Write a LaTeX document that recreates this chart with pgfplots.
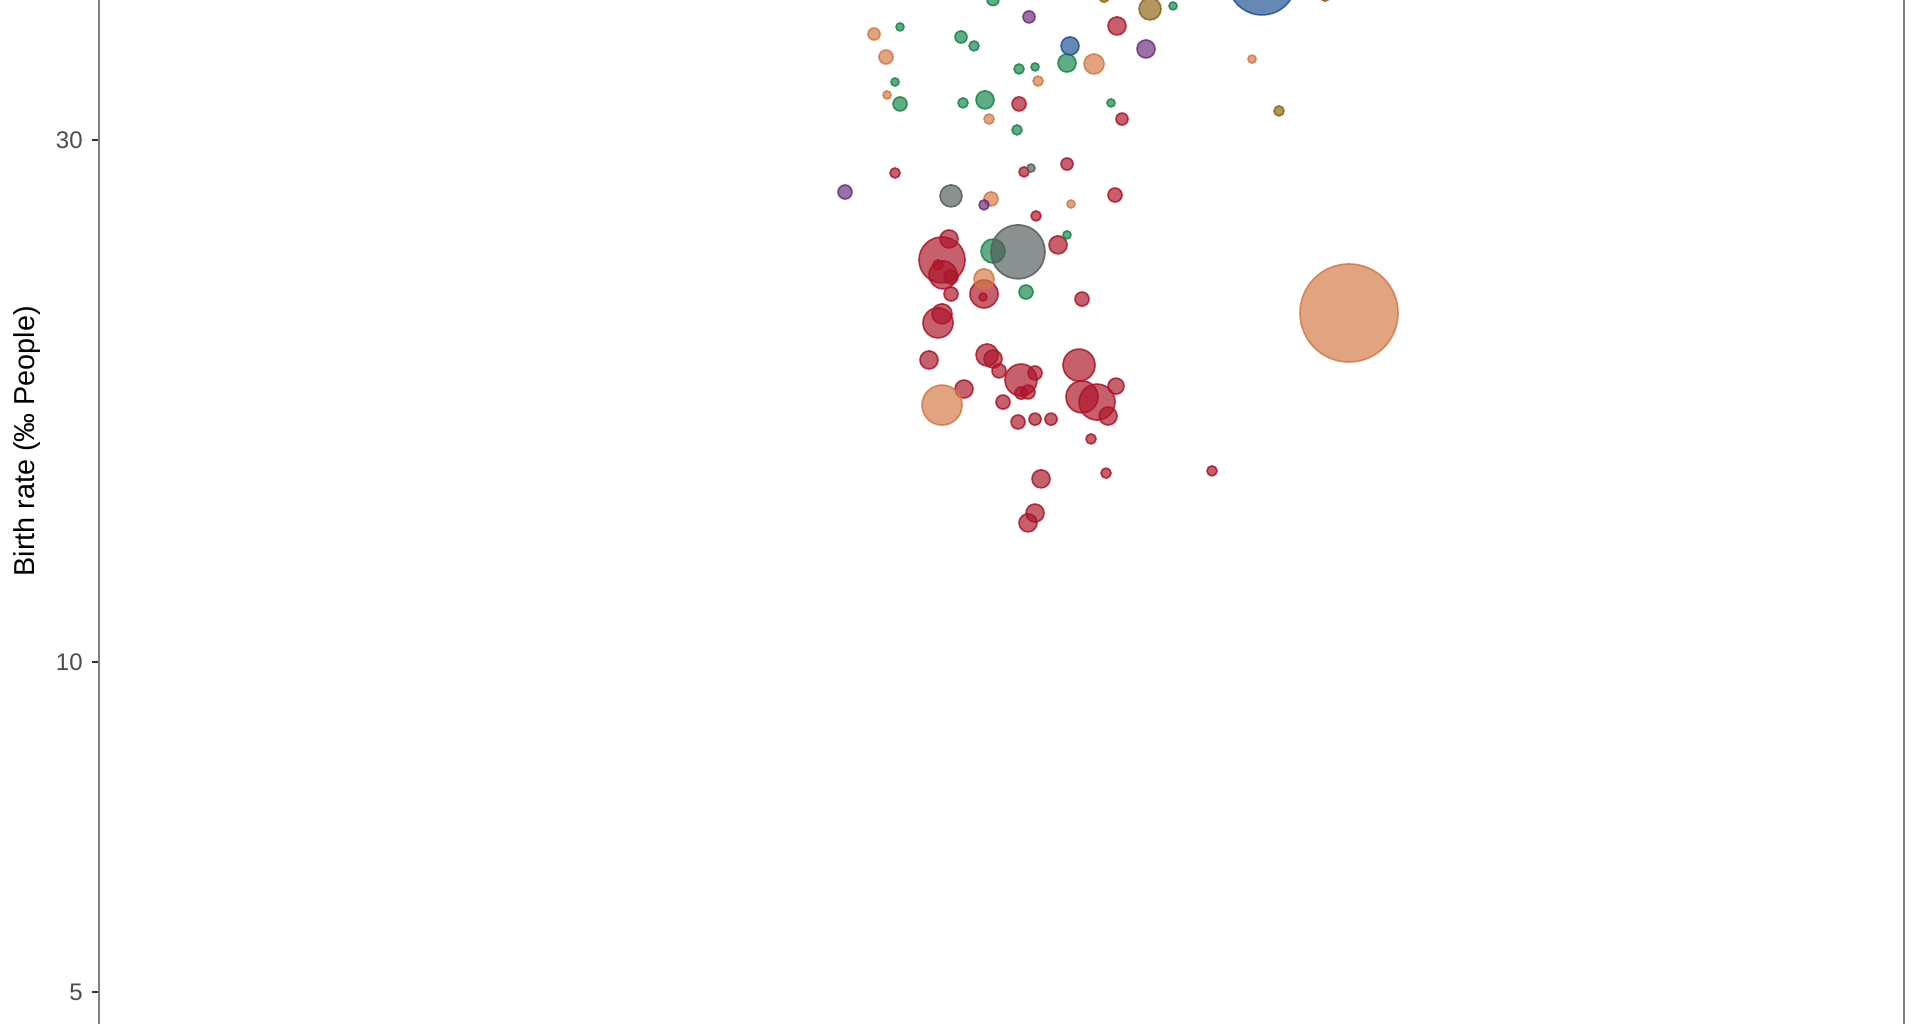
\documentclass[border=0pt]{standalone}
\usepackage{pgfplots}
\pgfplotsset{compat=1.18}
\usepackage{fontspec}
\setmainfont{Liberation Sans}

% fill colours of the regions
\definecolor{cred}{RGB}{172,20,40}
\definecolor{corange}{RGB}{212,119,69}
\definecolor{cgreen}{RGB}{20,132,72}
\definecolor{cblue}{RGB}{30,80,145}
\definecolor{cpurple}{RGB}{105,45,125}
\definecolor{cbrown}{RGB}{140,100,20}
\definecolor{cgray}{RGB}{84,91,91}

% bubbles: x, birth rate, radius (px of the 1920 wide picture)
\pgfplotsset{
  bub/.style={
    only marks, scatter, mark=*,
    scatter/use mapped color={draw=#1, fill=#1, fill opacity=0.68, draw opacity=0.85, line width=0.6pt},
    visualization depends on={0.375*\thisrow{r} \as \rad},
    scatter/@pre marker code/.append style={/tikz/mark size=\rad},
  }
}

\begin{document}
\begin{tikzpicture}
% the axis runs on above the page; the page cuts it off there
\begin{axis}[
    at={(37.125pt,0pt)}, anchor=south west,
    scale only axis,
    width=676.875pt, height=406.5pt,
    xmin=99, xmax=1904,
    ymode=log, ymin=4.675, ymax=45.68,
    xtick=\empty,
    ytick={5,10,30}, yticklabels={5,10,30},
    ytick pos=left,
    tick align=outside,
    major tick length=2.6pt,
    separate axis lines,
    x axis line style={draw=none},
    y axis line style={draw=black!50, line width=0.75pt},
    y tick style={draw=black!80, line width=0.75pt},
    yticklabel style={font=\fontsize{9}{10}\selectfont, text=black!70},
    /pgf/number format/assume math mode=true,
    ylabel={Birth rate (‰ People)},
    every axis y label/.style={at={(axis description cs:-0.040,0.5376)}, rotate=90, anchor=center,
      font=\fontsize{10.8}{12}\selectfont},
    clip marker paths=true,
]
\addplot[bub=cred] table[x=x, y=y] {
x r y
1117 9 38.13
1019 7 32.36
1122 6 31.35
895 5 27.99
1024 5 28.05
1067 6 28.52
1115 7 26.72
1036 5 25.57
949 9 24.36
942 23 23.31
943 14 22.59
938 5 23.07
951 7 22.49
1058 9 24.06
984 14 21.70
983 4 21.56
951 7 21.70
1082 7 21.47
938 15 20.42
942 10 20.81
929 9 18.89
987 11 19.09
993 9 18.93
999 7 18.46
1021 16 18.11
1035 7 18.38
1028 7 17.66
1021 6 17.62
964 9 17.77
1003 7 17.29
1018 7 16.58
1035 6 16.68
1051 6 16.68
1079 16 18.69
1082 16 17.48
1097 18 17.29
1116 8 17.88
1108 9 16.79
1091 5 16.00
1106 5 14.89
1041 9 14.71
1035 9 13.69
1028 9 13.41
1212 5 14.96
};
\addplot[bub=corange] table[x=x, y=y] {
x r y
874 6 37.49
886 7 35.72
1094 10 35.20
1038 5 33.96
887 4 32.98
989 5 31.35
1252 4 35.57
991 7 26.50
1071 4 26.22
984 10 22.40
942 20 17.18
1349 49 20.85
};
\addplot[bub=cgreen] table[x=x, y=y] {
x r y
993 6 40.30
900 4 38.05
961 6 37.26
974 5 36.56
1067 9 35.27
1019 5 34.83
1035 4 34.98
895 4 33.89
900 7 32.36
963 5 32.43
985 9 32.64
1111 4 32.43
1017 5 30.64
1173 4 39.77
1067 4 24.57
993 12 23.75
1026 7 21.79
};
\addplot[bub=cblue] table[x=x, y=y] {
x r y
1070 9 36.56
1262 34 41.91
};
\addplot[bub=cpurple] table[x=x, y=y] {
x r y
1029 6 38.86
1146 9 36.33
845 7 26.89
984 5 26.17
};
\addplot[bub=cbrown] table[x=x, y=y] {
x r y
1104 5 40.50
1150 11 39.52
1325 4 40.50
1279 5 31.89
};
\addplot[bub=cgray] table[x=x, y=y] {
x r y
1031 4 28.28
951 11 26.67
1018 27 23.71
};
\end{axis}
\pgfresetboundingbox
\useasboundingbox (0,0) rectangle (720pt,384pt);
\end{tikzpicture}
\end{document}
